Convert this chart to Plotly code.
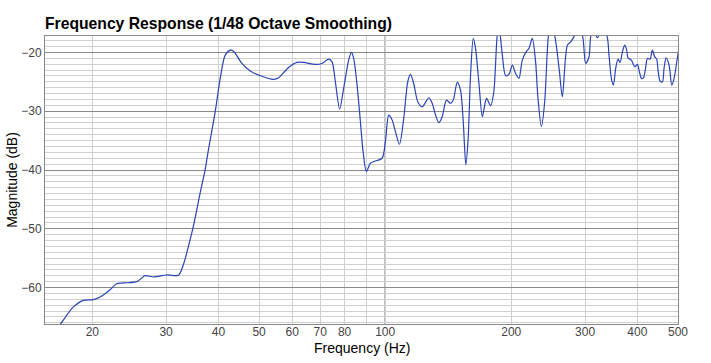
import plotly.graph_objects as go

# Frequency (Hz) and magnitude (dB)
freq_hz = [15.41, 16.81, 18.02, 19.03, 20.11, 20.87, 22.05, 22.79, 23.72, 25.54,
           26.73, 27.98, 30.12, 32.10, 32.98, 33.91, 34.84, 36.16, 37.17, 37.85,
           39.29, 40.39, 41.51, 42.68, 43.46, 45.51, 47.64, 50.33, 54.16, 55.67,
           58.82, 61.60, 63.88, 68.13, 70.69, 73.30, 74.68, 76.05, 77.87, 79.60,
           81.82, 83.05, 84.10, 85.69, 87.27, 88.57, 90.19, 92.20, 94.77, 98.33,
           100.14, 101.97, 103.90, 105.80, 108.16, 110.75, 113.21, 114.91, 117.02, 119.63,
           122.56, 127.1, 129.5, 131.9, 134.3, 136.8, 140.1, 143.2, 145.4, 148.6,
           151.3, 153.6, 155.8, 157.8, 159.9, 162.3, 164.3, 167.3, 170.5, 172.0,
           174.6, 178.5, 181.7, 185.2, 187.0, 190.4, 193.9, 197.4, 201.2, 204.8,
           208.6, 212.5, 217.6, 220.4, 224.5, 228.6, 231.6, 236.0, 240.3, 243.9,
           245.5, 249.6, 253.8, 260.4, 264.8, 272.2, 277.2, 282.2, 288.1, 295.6,
           301.0, 306.6, 309.4, 313.7, 321.0, 329.6, 338.4, 342.2, 346.7, 350.6,
           355.0, 359.6, 363.6, 368.4, 373.1, 377.2, 379.9, 387.1, 394.2, 400.1,
           404.5, 409.0, 413.5, 418.8, 422.7, 428.8, 434.5, 440.0, 444.9, 448.1,
           453.1, 459.1, 463.1, 468.3, 476.1, 483.2, 489.4, 496.7, 501.4]
magnitude_db = [-69.7, -66.13, -63.29, -62.17, -62.05, -61.60, -60.36, -59.39, -59.22, -59.00,
                -57.98, -58.20, -57.86, -57.90, -56.11, -53.0, -49.61, -43.94, -39.98, -36.59,
                -30.08, -24.41, -20.46, -19.61, -19.78, -21.87, -23.17, -23.97, -24.58, -24.31,
                -22.55, -21.70, -21.70, -22.04, -21.87, -21.14, -21.60, -24.99, -29.63, -26.11,
                -21.31, -20.0, -21.02, -25.55, -31.78, -36.88, -40.27, -38.85, -38.46, -38.0,
                -35.18, -30.65, -31.49, -33.48, -35.62, -31.21, -24.99, -23.74, -25.33, -28.39,
                -29.24, -27.71, -28.66, -30.65, -31.95, -30.93, -28.10, -28.66, -28.10, -25.09,
                -26.40, -31.78, -39.13, -34.60, -23.85, -17.62, -19.32, -24.99, -30.93, -29.80,
                -27.81, -29.07, -26.69, -17.06, -15.9, -20.46, -23.97, -23.74, -22.16, -23.57,
                -24.41, -21.31, -19.78, -19.32, -17.62, -21.60, -27.81, -32.63, -28.39, -19.5,
                -17.1, -15.8, -17.1, -23.0, -27.54, -18.76, -18.20, -17.35, -15.87, -17.06,
                -21.87, -20.75, -17.35, -16.2, -17.49, -16.2, -17.23, -20.46, -24.41, -25.55,
                -22.72, -21.14, -21.70, -19.90, -18.76, -19.61, -20.92, -21.31, -22.45, -22.04,
                -23.29, -24.41, -24.31, -22.45, -21.02, -21.14, -19.61, -20.75, -21.14, -23.01,
                -24.87, -24.99, -22.72, -20.92, -22.16, -25.55, -24.41, -21.60, -19.78]

x_tick_values = [20, 30, 40, 50, 60, 70, 80, 90, 100, 200, 300, 400, 500]
x_tick_labels = ["20", "30", "40", "50", "60", "70", "80", "", "100", "200", "300", "400", "500"]
x_major_line = 100

FONT = "Liberation Sans, Arial, sans-serif"
MINOR = "#cfcfcf"
MAJOR = "#8a8a8a"

fig = go.Figure()
fig.add_trace(go.Scatter(
    x=freq_hz, y=magnitude_db, mode="lines",
    line=dict(color="#2a43b8", width=1.2, shape="spline", smoothing=0.8),
    hoverinfo="skip", showlegend=False,
))

fig.add_shape(type="line", xref="x", yref="paper", x0=x_major_line, x1=x_major_line,
              y0=0, y1=1, line=dict(color="#7a7a7a", width=1.3), layer="between")

fig.add_annotation(text="Frequency (Hz)", xref="paper", yref="paper", x=0.5, y=0,
                   xanchor="center", yanchor="top", yshift=-14, showarrow=False,
                   font=dict(family=FONT, size=14, color="black"))

fig.update_layout(
    width=711, height=363,
    margin=dict(l=45, r=33, t=36, b=39, autoexpand=False),
    paper_bgcolor="white", plot_bgcolor="white",
    font=dict(family=FONT, color="#333333", size=12),
    title=dict(text="<b>Frequency Response (1/48 Octave Smoothing)</b>",
               x=0, xref="paper", xanchor="left",
               y=1 - 24 / 363, yref="container", yanchor="middle",
               font=dict(family=FONT, size=15.7, color="black")),
)

fig.update_xaxes(
    type="log", range=[1.188, 2.699], automargin=False,
    tickmode="array", tickvals=x_tick_values, ticktext=x_tick_labels,
    showgrid=True, gridcolor=MINOR, gridwidth=1,
    showline=True, mirror=True, linecolor=MAJOR, linewidth=1,
    ticks="", tickfont=dict(size=12, color="#444444"), ticklabelstandoff=-3,
    zeroline=False,
)
fig.update_yaxes(
    range=[-66.2, -17.2], dtick=10, tick0=0, automargin=False,
    showgrid=True, gridcolor=MAJOR, gridwidth=1,
    minor=dict(dtick=1, tick0=0, showgrid=True, gridcolor=MINOR, gridwidth=1),
    showline=True, mirror=True, linecolor=MAJOR, linewidth=1,
    ticks="", tickfont=dict(size=12, color="#444444"),
    title=dict(text="Magnitude (dB)", font=dict(size=14, color="black"), standoff=0),
    zeroline=False,
)

fig.write_html("out.html", config={"displayModeBar": False},
               post_script="document.body.style.margin='0';")
